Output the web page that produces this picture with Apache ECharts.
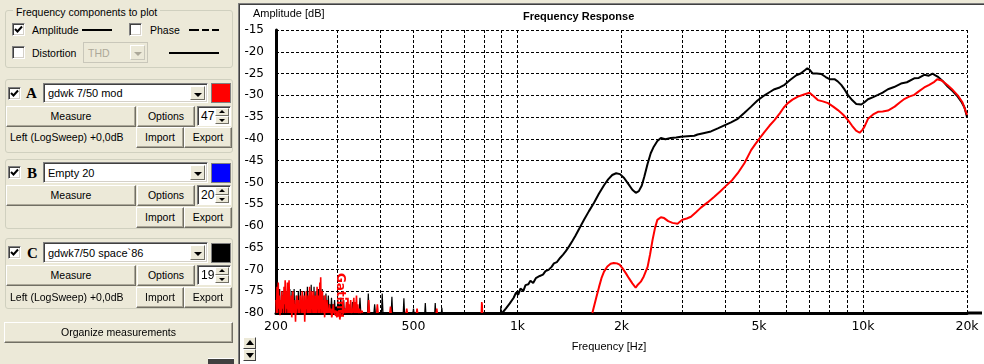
<!DOCTYPE html>
<html>
<head>
<meta charset="utf-8">
<script src="https://cdn.jsdelivr.net/npm/echarts@6/dist/echarts.min.js"></script>
<style>
  html, body { margin:0; padding:0; width:984px; height:364px; overflow:hidden; background:#ECE9D8; font-family:"Liberation Sans", Arial, sans-serif; font-size:10.5px; color:#000; }
  .a { position:absolute; }
  .gb { position:absolute; border:1px solid #D0D0BF; border-radius:3px; box-sizing:border-box; }
  .t { position:absolute; line-height:14px; white-space:nowrap; }
  .btn { position:absolute; box-sizing:border-box; background:#ECE9D8; border:1px solid; border-color:#fff #716F64 #716F64 #fff; box-shadow: inset -1px -1px #ACA899; text-align:center; white-space:nowrap; }
  .cb { position:absolute; width:13px; height:13px; box-sizing:border-box; background:#fff; border:1px solid; border-color:#808080 #fff #fff #808080; box-shadow: inset 1px 1px #404040, inset -1px -1px #D4D0C8; }
  .cb svg { position:absolute; left:1px; top:1px; }
  .combo { position:absolute; box-sizing:border-box; background:#fff; border:1px solid; border-color:#808080 #fff #fff #808080; box-shadow: inset 1px 1px #404040, inset -1px -1px #D4D0C8; white-space:nowrap; }
  .combo .txt { position:absolute; left:4px; line-height:14px; }
  .dd { position:absolute; right:2px; top:2px; bottom:2px; width:15px; box-sizing:border-box; background:#ECE9D8; border:1px solid; border-color:#fff #716F64 #716F64 #fff; }
  .dd i { position:absolute; left:3px; top:6px; width:0; height:0; border-left:4px solid transparent; border-right:4px solid transparent; border-top:4px solid #000; }
  .sw { position:absolute; width:20px; height:20px; box-sizing:border-box; border:1px solid #808080; }
  .letter { position:absolute; font-family:"Liberation Serif", serif; font-weight:bold; font-size:15px; line-height:16px; }
  .spin { position:absolute; box-sizing:border-box; background:#fff; border:1px solid; border-color:#808080 #fff #fff #808080; box-shadow: inset 1px 1px #404040; }
  .spin .txt { position:absolute; left:3px; top:2px; font-size:12px; line-height:14px; }
  .spin .up, .spin .dn { position:absolute; right:1px; width:14px; height:8px; box-sizing:border-box; background:#ECE9D8; border:1px solid; border-color:#fff #716F64 #716F64 #fff; }
  .spin .up { top:1px; } .spin .dn { bottom:1px; }
  .spin .up i { position:absolute; left:3px; top:1px; border-left:3px solid transparent; border-right:3px solid transparent; border-bottom:3px solid #000; }
  .spin .dn i { position:absolute; left:3px; top:2px; border-left:3px solid transparent; border-right:3px solid transparent; border-top:3px solid #000; }
  #wrap { position:absolute; left:238px; top:3px; width:746px; height:361px; background:#fff; border-top:1px solid #808080; border-left:1px solid #808080; box-sizing:border-box; }
  #wrap2 { position:absolute; left:239px; top:4px; width:745px; height:360px; border-top:1px solid #404040; border-left:1px solid #404040; box-sizing:border-box; }
  #chart { position:absolute; left:240px; top:5px; width:744px; height:359px; }
  .arr { position:absolute; left:243px; width:13px; height:12px; box-sizing:border-box; background:#ECE9D8; border:1px solid; border-color:#fff #404040 #404040 #fff; z-index:5; }
  .arr i { position:absolute; left:2px; }
</style>
</head>
<body>
<div id="wrap"></div><div id="wrap2"></div>
<div id="chart"></div>
<div class="arr" style="top:337px"><i style="top:2px;border-left:4px solid transparent;border-right:4px solid transparent;border-bottom:5px solid #000"></i></div>
<div class="arr" style="top:349px"><i style="top:3px;border-left:4px solid transparent;border-right:4px solid transparent;border-top:5px solid #000"></i></div>

<!-- left panel -->
<div class="gb" style="left:5px;top:10px;width:228px;height:58px"></div>
<div class="t" style="left:13px;top:5px;background:#ECE9D8;padding:0 3px">Frequency components to plot</div>
<div class="cb" style="left:12px;top:23px"><svg width="9" height="9"><path d="M1 4 L3.5 6.5 L8 1.5" stroke="#000" stroke-width="2" fill="none"/></svg></div>
<div class="t" style="left:32px;top:23px">Amplitude</div>
<div class="a" style="left:82px;top:29px;width:30px;height:2px;background:#000"></div>
<div class="cb" style="left:129px;top:23px"></div>
<div class="t" style="left:150px;top:23px">Phase</div>
<div class="a" style="left:189px;top:29px;width:10px;height:2px;background:#000"></div>
<div class="a" style="left:202px;top:29px;width:7px;height:2px;background:#000"></div>
<div class="a" style="left:212px;top:29px;width:7px;height:2px;background:#000"></div>
<div class="cb" style="left:12px;top:46px"></div>
<div class="t" style="left:32px;top:46px">Distortion</div>
<div class="combo" style="left:83px;top:42px;width:65px;height:21px;background:#ECE9D8;border:1px solid #C9C7BA;box-shadow:none">
  <div class="txt" style="top:3px;color:#ACA899">THD</div>
  <div class="dd" style="border-color:#fff #C9C7BA #C9C7BA #fff"><i style="border-top-color:#ACA899"></i></div>
</div>
<div class="a" style="left:169px;top:52px;width:50px;height:2px;background:#000"></div>

<!-- A -->
<div class="gb" style="left:5px;top:79px;width:228px;height:74px"></div>
<div class="cb" style="left:8px;top:87px"><svg width="9" height="9"><path d="M1 4 L3.5 6.5 L8 1.5" stroke="#000" stroke-width="2" fill="none"/></svg></div>
<div class="letter" style="left:26px;top:85px">A</div>
<div class="combo" style="left:43px;top:83px;width:165px;height:20px"><div class="txt" style="top:2px;font-size:11px">gdwk 7/50 mod</div><div class="dd"><i></i></div></div>
<div class="sw" style="left:211px;top:83px;background:#ff0000"></div>
<div class="btn" style="left:6px;top:106px;width:130px;height:21px;line-height:19px">Measure</div>
<div class="btn" style="left:137px;top:106px;width:58px;height:21px;line-height:19px">Options</div>
<div class="spin" style="left:197px;top:106px;width:34px;height:20px"><div class="txt">47</div><div class="up"><i></i></div><div class="dn"><i></i></div></div>
<div class="t" style="left:10px;top:130px">Left (LogSweep) +0,0dB</div>
<div class="btn" style="left:136px;top:127px;width:48px;height:21px;line-height:19px">Import</div>
<div class="btn" style="left:184px;top:127px;width:48px;height:21px;line-height:19px">Export</div>

<!-- B -->
<div class="gb" style="left:5px;top:159px;width:228px;height:70px"></div>
<div class="cb" style="left:8px;top:166px"><svg width="9" height="9"><path d="M1 4 L3.5 6.5 L8 1.5" stroke="#000" stroke-width="2" fill="none"/></svg></div>
<div class="letter" style="left:27px;top:165px">B</div>
<div class="combo" style="left:43px;top:162px;width:165px;height:21px"><div class="txt" style="top:3px;font-size:11px">Empty 20</div><div class="dd"><i></i></div></div>
<div class="sw" style="left:211px;top:163px;background:#0000ff"></div>
<div class="btn" style="left:6px;top:185px;width:130px;height:21px;line-height:19px">Measure</div>
<div class="btn" style="left:137px;top:185px;width:58px;height:21px;line-height:19px">Options</div>
<div class="spin" style="left:197px;top:185px;width:34px;height:20px"><div class="txt">20</div><div class="up"><i></i></div><div class="dn"><i></i></div></div>
<div class="btn" style="left:136px;top:207px;width:48px;height:21px;line-height:19px">Import</div>
<div class="btn" style="left:184px;top:207px;width:48px;height:21px;line-height:19px">Export</div>

<!-- C -->
<div class="gb" style="left:5px;top:238px;width:228px;height:71px"></div>
<div class="cb" style="left:8px;top:246px"><svg width="9" height="9"><path d="M1 4 L3.5 6.5 L8 1.5" stroke="#000" stroke-width="2" fill="none"/></svg></div>
<div class="letter" style="left:27px;top:245px">C</div>
<div class="combo" style="left:43px;top:242px;width:165px;height:21px"><div class="txt" style="top:3px;font-size:11px">gdwk7/50 space`86</div><div class="dd"><i></i></div></div>
<div class="sw" style="left:211px;top:243px;background:#000000"></div>
<div class="btn" style="left:6px;top:265px;width:130px;height:21px;line-height:19px">Measure</div>
<div class="btn" style="left:137px;top:265px;width:58px;height:21px;line-height:19px">Options</div>
<div class="spin" style="left:197px;top:265px;width:34px;height:20px"><div class="txt">19</div><div class="up"><i></i></div><div class="dn"><i></i></div></div>
<div class="t" style="left:10px;top:290px">Left (LogSweep) +0,0dB</div>
<div class="btn" style="left:136px;top:287px;width:48px;height:21px;line-height:19px">Import</div>
<div class="btn" style="left:184px;top:287px;width:48px;height:21px;line-height:19px">Export</div>

<div class="btn" style="left:4px;top:322px;width:229px;height:21px;line-height:19px">Organize measurements</div>
<div class="a" style="left:208px;top:358px;width:26px;height:6px;background:#404040;border-top:1px solid #fff"></div>

<script>
// ---- data ----
const yMin = -80, yMax = -15, yStep = 5;
const gridHz = [200, 300, 400, 500, 600, 700, 800, 900, 1000, 2000, 3000, 4000, 5000, 6000, 7000, 8000, 9000, 10000, 20000];
const labelHz = [200, 500, 1000, 2000, 5000, 10000, 20000];
const labelText = ['200', '500', '1k', '2k', '5k', '10k', '20k'];

// Measurement C (black), [Hz, dB]
const responseC = [[903,-80],[925,-79],[950,-77.8],[975,-76.5],[990,-75.3],[1005,-75.8],[1020,-74.4],[1040,-74.9],[1055,-73.6],[1075,-73.4],[1090,-72.6],[1110,-73.1],[1130,-72],[1160,-71.5],[1185,-71.2],[1205,-70.4],[1230,-70.1],[1255,-69.4],[1275,-68.6],[1300,-68.3],[1330,-67.3],[1355,-66.6],[1380,-65.8],[1410,-64.7],[1440,-63.5],[1470,-62.3],[1510,-60.6],[1558,-58.6],[1610,-56.6],[1667,-54.6],[1720,-52.6],[1782,-50.6],[1830,-49.3],[1880,-48.3],[1930,-47.9],[1980,-48.1],[2035,-49],[2090,-50.3],[2150,-51.7],[2200,-52.4],[2245,-52],[2290,-50.7],[2330,-48.6],[2380,-45.7],[2430,-43.3],[2480,-41.8],[2540,-40.5],[2600,-39.8],[2680,-40.1],[2777,-39.8],[2880,-39.7],[2970,-39.5],[3100,-39.4],[3250,-39.3],[3320,-39.0],[3450,-38.7],[3630,-38.3],[3800,-37.6],[3970,-36.9],[4150,-36.2],[4340,-35.4],[4540,-34],[4745,-32.6],[4950,-31.2],[5187,-30],[5360,-29.3],[5545,-28.6],[5740,-28.2],[5929,-27.6],[6150,-26.5],[6412,-25.4],[6600,-25],[6800,-24.2],[6900,-23.8],[7000,-24.1],[7160,-25],[7350,-25],[7570,-25.1],[7800,-25.8],[8000,-26.3],[8270,-26.3],[8450,-26.8],[8650,-27.6],[8850,-28.7],[9040,-29.9],[9300,-31.1],[9560,-32],[9890,-32.1],[10100,-31.6],[10340,-30.9],[10700,-30.4],[11050,-29.9],[11400,-29.4],[11810,-28.6],[12300,-28.1],[12880,-27.3],[13400,-27.0],[14070,-26.1],[14500,-26.0],[15040,-25.3],[15500,-25.5],[15900,-25],[16200,-25.4],[16440,-25.7],[17000,-26.7],[17580,-28],[18200,-29.1],[18800,-30.3],[19300,-31.6],[19670,-32.8],[20000,-35]];

// Measurement A (red), [Hz, dB]
const responseA = [[1647,-80],[1665,-78.5],[1690,-76.5],[1722,-74],[1750,-72],[1780,-70.5],[1820,-69.3],[1860,-68.7],[1900,-68.5],[1940,-68.6],[1975,-68.9],[2012,-69.7],[2060,-70.9],[2101,-72],[2150,-73.2],[2198,-74.2],[2230,-73.5],[2275,-72.8],[2320,-71.6],[2380,-69.4],[2420,-66.5],[2460,-63.2],[2500,-60.5],[2540,-58.6],[2600,-58],[2657,-58.2],[2730,-58.9],[2810,-59.3],[2905,-59.5],[3000,-58.6],[3090,-58.3],[3177,-57.9],[3280,-56.9],[3395,-55.8],[3550,-54.6],[3712,-53.3],[3860,-52.1],[4012,-50.8],[4180,-49.5],[4340,-47.9],[4537,-45.6],[4745,-42.6],[4880,-41.2],[5020,-39.9],[5190,-38.4],[5360,-37],[5545,-35.7],[5750,-34.1],[5900,-32.8],[6060,-31.8],[6250,-31],[6480,-30.3],[6750,-29.8],[7000,-29.4],[7200,-30.2],[7400,-31.1],[7650,-31.4],[7920,-31.8],[8200,-32.6],[8460,-33.4],[8750,-34.4],[9050,-35.7],[9300,-37],[9550,-38.1],[9780,-38.6],[9950,-38],[10100,-37.2],[10340,-35.4],[10700,-34.4],[11050,-33.8],[11400,-33.7],[11810,-33.5],[12350,-32.6],[12800,-31.6],[13200,-30.8],[13600,-30.3],[14070,-29.9],[14500,-29.1],[15040,-28.2],[15550,-27.6],[16090,-26.9],[16400,-26.3],[16600,-26.1],[16900,-26.6],[17580,-27.7],[18200,-28.8],[18800,-30],[19400,-31.6],[20000,-34.5]];

// Low-frequency noise below the gate, [Hz, dB]; null dB = gap
const noiseC = [[200,-80],[200.4,-78],[201,-80],[201.8,-75],[202.5,-80],[203.3,-77],[204.1,-80],[204.9,-74.5],[205.7,-80],[206.5,-78],[207.3,-80],[208.1,-76],[208.9,-80],[209.7,-75],[210.5,-80],[211.3,-77],[212.1,-80],[212.9,-74],[213.7,-80],[214.5,-78],[215.3,-80],[216.1,-76],[216.9,-80],[217.7,-77],[218.5,-80],[219.3,-74.5],[220.1,-80],[220.9,-78],[221.7,-80],[222.5,-75],[223.3,-80],[224.1,-77],[224.9,-80],[225.7,-74.5],[226.5,-80],[227.3,-78],[228.1,-80],[228.9,-76],[229.7,-80],[230.5,-77],[231.3,-80],[232.1,-75],[232.9,-80],[233.7,-78],[234.5,-80],[235.3,-74.5],[236.1,-80],[236.9,-77],[237.7,-80],[238.5,-76],[239.3,-80],[240.1,-78],[240.9,-80],[241.7,-75],[242.5,-80],[243.3,-77],[244.1,-80],[244.9,-76],[245.7,-80],[246.5,-74],[247.3,-80],[248.1,-78],[248.9,-80],[249.7,-75],[250.5,-80],[251.3,-77],[252.1,-80],[252.9,-73.5],[253.7,-80],[254.5,-76],[255.3,-80],[256.1,-78],[256.9,-80],[257.7,-74],[258.5,-80],[259.3,-77],[260.1,-80],[260.9,-75],[261.7,-80],[262.5,-78],[263.3,-80],[264.1,-76],[264.9,-80],[265.7,-74.5],[266.5,-80],[267.3,-77],[268.1,-80],[268.9,-75],[269.7,-80],[270.5,-78],[271.3,-80],[272.1,-74.5],[272.9,-80],[273.7,-77],[274.5,-80],[275.3,-76],[276.1,-80],[277,-78],[278,-80],[279,-75.5],[280,-80],[281,-77],[282,-80],[283.5,-76],[285,-80],[286.5,-78],[288,-80],[289.5,-76.5],[291,-80],[292.5,-78],[294,-80],[295.5,-77],[297,-80],[299,-78.5],[300.5,-80],[302,-77],[303.5,-80],[305,-78],[306.5,-80],[308,-76.5],[309.5,-80],[311,-78],[312.5,-80],[314,-77],[315.5,-80],[318,-79],[320,-80],[325,null],[331,-80],[333,-77.5],[335,-80],[340,null],[348,-80],[350,-76.5],[352,-80],[360,null],[368,-80],[370,-75.5],[372,-80],[378,null],[384,-80],[386,-78],[388,-80],[395,null],[404,-80],[406,-75.5],[408,-80],[420,null],[431,-80],[433,-76.3],[435,-80],[450,null],[467,-80],[469,-76.6],[471,-80],[485,null],[498,-80],[500,-79],[502,-80],[520,null],[539,-80],[541,-77.7],[543,-80],[560,null],[576,-80],[578,-77.7],[580,-80],[590,null],[602,-80],[604,-78.8],[606,-80],[700,null],[893,-80],[895,-78.4],[897,-80]];

const noiseA = [[200,-77],[200.7,-80],[201.5,-74],[202.2,-80],[203,-73],[203.8,-79],[204.6,-76],[205.4,-80.5],[206.2,-77],[207,-80],[207.8,-75],[208.6,-79],[209.4,-76],[210.2,-80],[211,-74],[211.8,-78],[212.6,-72.5],[213.4,-80],[214.2,-75],[215,-79],[215.8,-73],[216.6,-80],[217.4,-76],[218.2,-72.5],[219,-80],[219.8,-77],[220.6,-80],[221.4,-76],[222.2,-81],[223,-78],[223.8,-75],[224.6,-80],[225.4,-77],[226.2,-80],[227,-78],[227.8,-82],[228.6,-77],[229.4,-80],[230.2,-76],[231,-79],[231.8,-77],[232.6,-80],[233.4,-78],[234.2,-80],[235,-76],[235.8,-79],[236.6,-77],[237.4,-80],[238.2,-75],[239,-80],[239.8,-78],[240.6,-80],[241.4,-76],[242.2,-82],[243,-77],[243.8,-80],[244.6,-75],[245.4,-79],[246.2,-77],[247,-80],[247.8,-76],[248.6,-80],[249.4,-78],[250.2,-74],[251,-80],[251.8,-77],[252.6,-80],[253.4,-75],[254.2,-79],[255,-77],[255.8,-80],[256.6,-75],[257.4,-80],[258.2,-78],[259,-80],[259.8,-76],[260.6,-80],[261.4,-77],[262.2,-80],[263,-74],[263.8,-79],[264.6,-76],[265.4,-80],[266.2,-77],[267,-80],[267.8,-73],[268.6,-79],[269.4,-71.8],[270.2,-80],[271,-76],[271.8,-80],[272.6,-75],[273.4,-79],[274.2,-77],[275,-80],[275.8,-78],[276.6,-81],[277.4,-76],[278.2,-80],[279,-78],[279.8,-80],[281,-77],[282,-80],[283,-79],[284,-80],[285.5,-78],[287,-80],[288.5,-79],[290,-81],[291.5,-80],[293,-78],[294.5,-80],[296,-79.5],[297.5,-80],[299,-79.5],[300,-81],[302,-80],[304,-79.5],[306,-81.5],[308,-80],[310,-79.5],[311,-80],[313,-77],[314,-80],[316,-79],[318,-80],[320,-77.5],[321,-80],[323,-76.5],[324,-80],[326,-78],[327,-80],[329,-77],[330,-80],[332,-79],[333,-80],[336,-76.5],[337,-80],[339,-77.5],[340,-80],[342,-76],[343,-80],[345,-78],[346,-80],[349,-79],[350,-80],[355,-79.5],[356,-80],[362,null],[369,-80],[371,-77],[373,-80],[380,null],[391,-80],[393,-78],[395,-80],[410,null],[427,-80],[429,-78.5],[431,-80],[450,null],[476,-80],[478,-79],[480,-80],[495,null],[510,-80],[512,-79],[514,-80],[550,null],[582,-80],[584,-79],[586,-80],[700,null],[786,-80],[788,-77.5],[790,-78],[792,-80]];

// ---- chart ----
const lg = v => Math.log10(v);
const toXY = arr => arr.map(p => [lg(p[0]), p[1] === null ? '-' : p[1]]);
const FONT = '"Liberation Sans", Arial, sans-serif';
const TICKFONT = '"DejaVu Sans", sans-serif';

const chart = echarts.init(document.getElementById('chart'), null, { renderer: 'canvas' });
chart.setOption({
  animation: false,
  backgroundColor: '#ffffff',
  title: {
    text: 'Frequency Response', left: 283, top: 6, padding: 0,
    textStyle: { fontFamily: FONT, fontSize: 11, fontWeight: 'bold', color: '#000' }
  },
  graphic: [
    { type: 'text', left: 13, top: 3, style: { text: 'Amplitude [dB]', font: '11px ' + FONT, fill: '#000' } },
    { type: 'text', x: 100, y: 268, rotation: -Math.PI / 2,
      style: { text: 'Gating', font: 'bold 12px "DejaVu Sans"', fill: '#ff0000', align: 'left', verticalAlign: 'middle' }, z: 100 },
    { type: 'rect', shape: { x: 727, y: 306.5, width: 15, height: 3 }, style: { fill: '#000' }, z: 100 }
  ],
  grid: { left: 36, right: 17, top: 25, bottom: 51, containLabel: false, outerBoundsMode: 'none' },
  xAxis: {
    type: 'value',
    min: lg(200), max: lg(20000),
    name: 'Frequency [Hz]', nameLocation: 'middle', nameGap: 28,
    nameTextStyle: { fontFamily: FONT, fontSize: 11, color: '#000', padding: [0, 25, 0, 0] },
    axisLine: { show: true, onZero: false, lineStyle: { color: '#000', width: 3 } },
    axisTick: { show: false, customValues: gridHz.map(lg) },
    axisLabel: {
      customValues: labelHz.map(lg), margin: 7,
      fontFamily: TICKFONT, fontSize: 12.5, color: '#000',
      formatter: v => { const i = labelHz.findIndex(h => Math.abs(lg(h) - v) < 1e-6); return i >= 0 ? labelText[i] : ''; }
    },
    splitLine: { show: true, lineStyle: { color: '#000', width: 1, type: [3, 2] } }
  },
  yAxis: {
    type: 'value', min: yMin, max: yMax, interval: yStep,
    axisLine: { show: true, onZero: false, lineStyle: { color: '#000', width: 3 } },
    axisTick: { show: false },
    axisLabel: { margin: 12, fontFamily: TICKFONT, fontSize: 12, color: '#000' },
    splitLine: { show: true, lineStyle: { color: '#000', width: 1, type: [3, 2] } }
  },
  series: [
    { name: 'C noise', type: 'line', data: toXY(noiseC), symbol: 'none', connectNulls: false, clip: true, silent: true,
      lineStyle: { color: '#000', width: 1.2 } },
    { name: 'A noise', type: 'line', data: toXY(noiseA), symbol: 'none', connectNulls: false, clip: false, silent: true,
      lineStyle: { color: '#ff0000', width: 1.6 } },
    { name: 'gdwk7/50 space`86', type: 'line', data: toXY(responseC), symbol: 'none', silent: true,
      lineStyle: { color: '#000', width: 2 } },
    { name: 'gdwk 7/50 mod', type: 'line', data: toXY(responseA), symbol: 'none', silent: true,
      lineStyle: { color: '#ff0000', width: 2 } }
  ]
});
</script>
</body>
</html>
